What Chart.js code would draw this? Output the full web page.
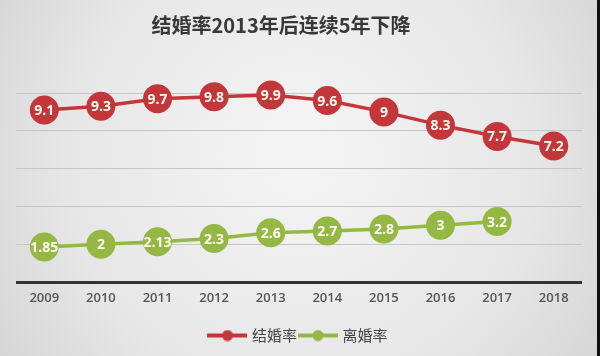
<!DOCTYPE html>
<html><head><meta charset="utf-8">
<script src="https://cdn.jsdelivr.net/npm/chart.js@4"></script>
<style>html,body{margin:0;padding:0;background:#e4e4e4}#wrap{width:600px;height:356px;position:relative}</style>
</head><body><div id="wrap"><canvas id="c" width="600" height="356"></canvas></div>
<script>
const years = ['2009','2010','2011','2012','2013','2014','2015','2016','2017','2018'];
const marriageRate = [9.1, 9.3, 9.7, 9.8, 9.9, 9.6, 9, 8.3, 7.7, 7.2];
const divorceRate = [1.85, 2, 2.13, 2.3, 2.6, 2.7, 2.8, 3, 3.2, null];
const seriesNames = ['结婚率', '离婚率'];
const titleText = '结婚率2013年后连续5年下降';
const yTicks = [0, 2, 4, 6, 8, 10];

const RED = '#c3373b';
const GREEN = '#94b843';

function legendMarker(color){
  const c = document.createElement('canvas');
  c.width = 40; c.height = 12;
  const g = c.getContext('2d');
  g.strokeStyle = color; g.lineWidth = 4;
  g.beginPath(); g.moveTo(0,6); g.lineTo(40,6); g.stroke();
  g.fillStyle = color;
  g.beginPath(); g.arc(20,6,5.5,0,Math.PI*2); g.fill();
  return c;
}
const markers = [legendMarker(RED), legendMarker(GREEN)];

const bgPlugin = {
  id:'bg',
  beforeDraw(chart){
    const ctx = chart.ctx, w = chart.width, h = chart.height;
    ctx.save();
    const g = ctx.createRadialGradient(300,150,20,300,170,380);
    g.addColorStop(0,'#f4f4f4');
    g.addColorStop(0.6,'#e6e6e6');
    g.addColorStop(1,'#d2d2d2');
    ctx.fillStyle = g;
    ctx.fillRect(0,0,w,h);
    ctx.fillStyle = '#111';
    ctx.fillRect(597,0,3,h);
    ctx.restore();
  }
};
const titlePlugin = {
  id:'ttl',
  afterDraw(chart){
    const ctx = chart.ctx;
    ctx.save();
    ctx.font = 'bold 20px "Noto Sans CJK SC"';
    ctx.fillStyle = '#383838';
    ctx.textAlign = 'center';
    ctx.textBaseline = 'middle';
    ctx.fillText(titleText, 281, 25);
    ctx.restore();
  }
};
const valueLabels = {
  id:'vals',
  afterDatasetsDraw(chart){
    const ctx = chart.ctx;
    ctx.save();
    ctx.font = 'bold 14px "Open Sans"';
    ctx.fillStyle = '#fffaf0';
    ctx.textAlign = 'center';
    ctx.textBaseline = 'middle';
    chart.data.datasets.forEach((ds, di) => {
      chart.getDatasetMeta(di).data.forEach((pt, i) => {
        const v = ds.data[i];
        if (v === null || v === undefined) return;
        ctx.fillText(String(v), pt.x, pt.y + 1);
      });
    });
    ctx.restore();
  }
};

new Chart(document.getElementById('c'), {
  type:'line',
  data:{
    labels: years,
    datasets:[
      {label: seriesNames[0], data: marriageRate, borderColor: RED, backgroundColor: RED,
       pointBackgroundColor: RED, pointBorderWidth:0, pointRadius:14.5, borderWidth:3.5, clip:false},
      {label: seriesNames[1], data: divorceRate, borderColor: GREEN, backgroundColor: GREEN,
       pointBackgroundColor: GREEN, pointBorderWidth:0, pointRadius:14.5, borderWidth:3.5, clip:false}
    ]
  },
  options:{
    responsive:false,
    animation:false,
    devicePixelRatio:1,
    layout:{padding:{left:16, right:18, top:93, bottom:3}},
    plugins:{
      title:{display:false},
      tooltip:{enabled:false},
      legend:{
        position:'bottom',
        labels:{
          usePointStyle:true,
          pointStyleWidth:34,
          padding:4,
          color:'#444',
          font:{family:'"Noto Sans CJK SC"', size:15},
          generateLabels(chart){
            const items = Chart.defaults.plugins.legend.labels.generateLabels(chart);
            items.forEach((it, i) => { it.pointStyle = markers[i]; });
            return items;
          }
        }
      }
    },
    scales:{
      x:{
        offset:true,
        grid:{display:false, drawTicks:false},
        border:{display:false},
        ticks:{color:'#555', font:{family:'"Open Sans"', size:13, weight:'600'}, padding:8},
        afterFit(s){ s.height = 42; }
      },
      y:{
        min:0, max:10,
        afterBuildTicks(s){ s.ticks = yTicks.map(v => ({value:v})); },
        ticks:{display:false},
        border:{display:false},
        grid:{drawTicks:false,
          color: c => c.tick && c.tick.value === 0 ? '#333' : '#c6c6c6',
          lineWidth: c => c.tick && c.tick.value === 0 ? 3 : 1},
        afterFit(s){ s.width = 0; }
      }
    }
  },
  plugins:[bgPlugin, titlePlugin, valueLabels]
});
</script>
</body></html>
